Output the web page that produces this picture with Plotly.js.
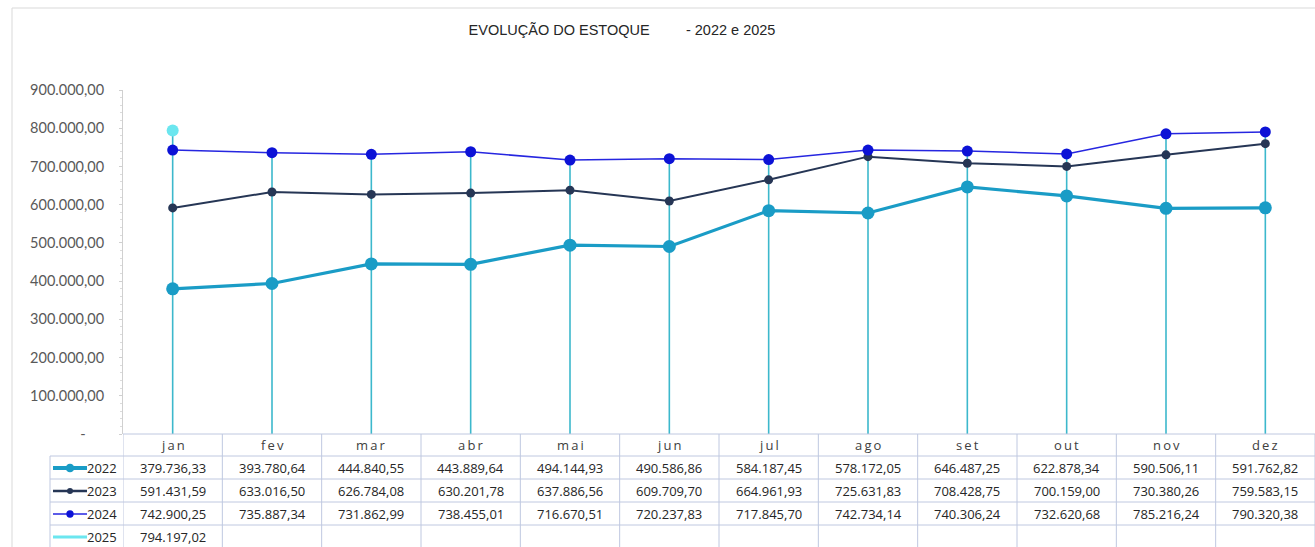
<!DOCTYPE html>
<html>
<head>
<meta charset="utf-8">
<script src="https://cdn.plot.ly/plotly-3.0.1.min.js"></script>
<style>html,body{margin:0;padding:0;background:#fff;}#chart{width:1315px;height:547px;}</style>
</head>
<body>
<div id="chart"></div>
<script>
const months = ['jan','fev','mar','abr','mai','jun','jul','ago','set','out','nov','dez'];
const years = ['2022','2023','2024','2025'];
const v2022 = [379736.33,393780.64,444840.55,443889.64,494144.93,490586.86,584187.45,578172.05,646487.25,622878.34,590506.11,591762.82];
const v2023 = [591431.59,633016.50,626784.08,630201.78,637886.56,609709.70,664961.93,725631.83,708428.75,700159.00,730380.26,759583.15];
const v2024 = [742900.25,735887.34,731862.99,738455.01,716670.51,720237.83,717845.70,742734.14,740306.24,732620.68,785216.24,790320.38];
const v2025 = [794197.02,null,null,null,null,null,null,null,null,null,null,null];
const yTicks = [0,100000,200000,300000,400000,500000,600000,700000,800000,900000];
const chartTitle = 'EVOLUÇÃO DO ESTOQUE\u00a0\u00a0\u00a0\u00a0\u00a0\u00a0\u00a0\u00a0\u00a0- 2022 e 2025';

const seriesVals = [v2022, v2023, v2024, v2025];
const colors = ['#1a9cc6','#263655','#2626e0','#6be6ef'];
const markerColors = ['#1a9cc6','#263655','#0c12d6','#6be6ef'];
const lineW = [3.2, 2, 1.5, 2];
const keyW = [4, 2.5, 1.5, 3];
const markSz = [13, 9, 11, 12];

function fmt(v){
  if (v === null || v === undefined) return '';
  const neg = v < 0; v = Math.abs(v);
  let s = v.toFixed(2);
  let [i, d] = s.split('.');
  i = i.replace(/\B(?=(\d{3})+(?!\d))/g, '.');
  return (neg?'-':'') + i + ',' + d;
}

const W = 1315, L = 123, R = 0, T = 90, B = 113;
const PW = W - L - R, PH = 547 - T - B;
const bottomPx = 547 - B;
const px = x => (x - L) / PW;
const py = y => (bottomPx - y) / PH;

// drop lines
const dropX = [], dropY = [];
months.forEach((m, i) => {
  let mx = 0;
  seriesVals.forEach(s => { if (s[i] !== null && s[i] > mx) mx = s[i]; });
  dropX.push(m, m, null); dropY.push(0, mx, null);
});

const traces = [{
  x: dropX, y: dropY, mode: 'lines', type: 'scatter',
  line: {color: '#3cb8cc', width: 1.6}, hoverinfo: 'skip', showlegend: false, connectgaps: false
}];
seriesVals.forEach((s, k) => {
  traces.push({
    x: months, y: s, name: years[k], type: 'scatter', mode: 'lines+markers',
    line: {color: colors[k], width: lineW[k]},
    marker: {color: markerColors[k], size: markSz[k]},
    showlegend: false
  });
});

const shapes = [];
const annotations = [];
const gridC = '#bfc8e0';
// outer frame
shapes.push({type:'rect', xref:'paper', yref:'paper', x0:px(12), x1:px(1320), y0:py(552), y1:py(8), line:{color:'#d9d9d9', width:1}, layer:'below'});

const rowTops = [456, 479, 502, 525];
const rowH = 23;
shapes.push({type:'line', xref:'paper', yref:'paper', x0:px(123), x1:px(1315), y0:py(434), y1:py(434), line:{color:gridC, width:1}});
rowTops.forEach(t => {
  shapes.push({type:'line', xref:'paper', yref:'paper', x0:px(50), x1:px(1315), y0:py(t), y1:py(t), line:{color:gridC, width:1}});
});
shapes.push({type:'line', xref:'paper', yref:'paper', x0:px(50), x1:px(50), y0:py(456), y1:py(547), line:{color:gridC, width:1}});
for (let k = 0; k <= months.length; k++) {
  shapes.push({type:'line', xref:'x', yref:'paper', x0:k-0.5, x1:k-0.5, y0:py(434), y1:py(547), line:{color:gridC, width:1}});
}

months.forEach((m, i) => {
  annotations.push({xref:'x', yref:'paper', x:m, y:py(445), text:m.split('').join('\u2009'), showarrow:false,
    font:{family:'Open Sans, sans-serif', size:13, color:'#404040'}, xanchor:'center', yanchor:'middle'});
});
seriesVals.forEach((s, k) => {
  const cy = rowTops[k] + rowH/2 + 0.5;
  s.forEach((v, i) => {
    if (v === null) return;
    annotations.push({xref:'x', yref:'paper', x:months[i], y:py(cy), text:fmt(v), showarrow:false,
      font:{family:'Open Sans, sans-serif', size:13, color:'#262626'}, xanchor:'center', yanchor:'middle'});
  });
  shapes.push({type:'line', xref:'paper', yref:'paper', x0:px(53), x1:px(87), y0:py(cy), y1:py(cy), line:{color:colors[k], width:keyW[k]}});
  const r = markSz[k] / 3;
  if (k !== 3) {
    shapes.push({type:'circle', xref:'paper', yref:'paper', x0:px(70-r), x1:px(70+r), y0:py(cy+r), y1:py(cy-r), fillcolor:markerColors[k], line:{width:0}});
  }
  annotations.push({xref:'paper', yref:'paper', x:px(119), y:py(cy), text:years[k], showarrow:false,
    font:{family:'Open Sans, sans-serif', size:13, color:'#262626'}, xanchor:'right', yanchor:'middle'});
});

const tickText = yTicks.map(v => v === 0 ? '-\u00a0\u00a0\u00a0\u00a0\u00a0' : fmt(v));

const layout = {
  width: 1315, height: 547,
  margin: {l: L, r: R, t: T, b: B},
  paper_bgcolor: '#ffffff', plot_bgcolor: '#ffffff',
  title: {text: chartTitle, x: 622/1315, xref: 'container', xanchor: 'center', y: 1 - 30/547, yref: 'container', yanchor: 'middle',
    font: {family: 'Liberation Sans Narrow, Arial Narrow, sans-serif', size: 14.5, color: '#262626'}},
  xaxis: {type: 'category', range: [-0.5, 11.5], showticklabels: false, showgrid: false, zeroline: false, ticks: '', showline: false, fixedrange: true},
  yaxis: {range: [0, 900000], tickvals: yTicks, ticktext: tickText, showgrid: false, zeroline: false,
    showline: true, linecolor: '#d0d0d0', linewidth: 1, ticks: 'outside', ticklen: 3, tickcolor: '#d0d0d0',
    minor: {ticks: 'outside', ticklen: 2, tickcolor: '#dcdcdc', dtick: 20000},
    ticklabelstandoff: 12,
    tickfont: {family: 'Lato, sans-serif', size: 14.5, color: '#595959'}, fixedrange: true},
  shapes: shapes, annotations: annotations,
  hovermode: false
};

Plotly.newPlot('chart', traces, layout, {displayModeBar: false, staticPlot: true});
</script>
</body>
</html>
